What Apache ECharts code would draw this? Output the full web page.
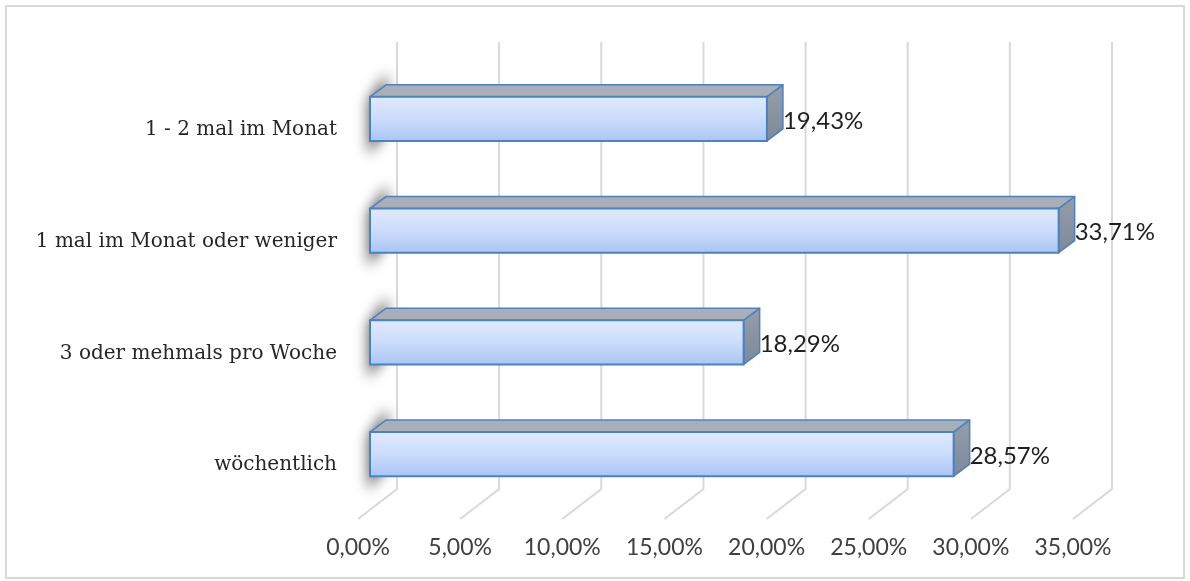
<!DOCTYPE html>
<html>
<head>
<meta charset="utf-8">
<script src="https://cdn.jsdelivr.net/npm/echarts@6/dist/echarts.min.js"></script>
<style>
  html, body { margin: 0; padding: 0; background: #ffffff; }
  #chart { width: 1190px; height: 581px; }
</style>
</head>
<body>
<div id="chart"></div>
<script>
// Frequency categories, listed bottom to top
const categories = ['wöchentlich', '3 oder mehmals pro Woche', '1 mal im Monat oder weniger', '1 - 2 mal im Monat'];
// Share of answers in percent
const values = [28.57, 18.29, 33.71, 19.43];
// Value axis ticks (percent)
const ticks = [0, 5, 10, 15, 20, 25, 30, 35];

const fmtPct = v => v.toFixed(2).replace('.', ',') + '%';

// Perspective offsets for the pseudo-3D look
const BAR_DEPTH = [16, -12];   // front face -> back face of a bar
const WALL_DEPTH = [27, -21];  // bar front plane -> back wall
const FLOOR_FRONT = [-12, 9];  // bar front plane -> floor front edge
const OFF = 3000;              // shadow caster is drawn off-canvas, only its blur shows

const chart = echarts.init(document.getElementById('chart'), null, { renderer: 'canvas' });

const gridSeries = {
  type: 'custom',
  silent: true,
  z: 1,
  data: ticks.map(t => [t]),
  renderItem: function (params, api) {
    const cs = params.coordSys;
    const x = api.coord([api.value(0), 0])[0];
    const top = cs.y, bottom = cs.y + cs.height;
    const bx = x + WALL_DEPTH[0];
    return {
      type: 'polyline',
      shape: {
        points: [
          [bx, top + WALL_DEPTH[1]],
          [bx, bottom + WALL_DEPTH[1]],
          [x + FLOOR_FRONT[0], bottom + FLOOR_FRONT[1]]
        ]
      },
      style: { stroke: '#d9d9d9', lineWidth: 2, fill: null }
    };
  }
};

const barSeries = {
  type: 'custom',
  z: 3,
  data: values.map((v, i) => [v, i]),
  renderItem: function (params, api) {
    const v = api.value(0);
    const cat = api.value(1);
    const start = api.coord([0, cat]);
    const end = api.coord([v, cat]);
    const band = api.size([0, 1])[1];
    const bh = band * 0.395;
    const x0 = start[0], x1 = end[0];
    const y0 = end[1] - bh / 2, y1 = end[1] + bh / 2;
    const dx = BAR_DEPTH[0], dy = BAR_DEPTH[1];
    const edge = '#4f81bd';
    return {
      type: 'group',
      children: [
        // soft shadow on the wall at the left end of the bar
        {
          type: 'polygon',
          z2: 0,
          shape: {
            points: [
              [x0 - 2 - OFF, y0 + 4],
              [x0 + dx + 1 - OFF, y0 + dy - 12],
              [x0 + dx + 1 - OFF, y1 + dy + 2],
              [x0 - 2 - OFF, y1 + 14]
            ]
          },
          style: {
            fill: '#000',
            shadowBlur: 13,
            shadowOffsetX: OFF,
            shadowColor: 'rgba(0,0,0,0.62)'
          }
        },
        // top face
        {
          type: 'polygon',
          z2: 2,
          shape: { points: [[x0, y0], [x0 + dx, y0 + dy], [x1 + dx, y0 + dy], [x1, y0]] },
          style: { fill: '#a8afb9', stroke: edge, lineWidth: 1.5, lineJoin: 'round' }
        },
        // right side face
        {
          type: 'polygon',
          z2: 2,
          shape: { points: [[x1, y0], [x1 + dx, y0 + dy], [x1 + dx, y1 + dy], [x1, y1]] },
          style: {
            fill: new echarts.graphic.LinearGradient(0, 0, 0, 1, [
              { offset: 0, color: '#959eac' },
              { offset: 1, color: '#7d889b' }
            ]),
            stroke: edge, lineWidth: 1.5, lineJoin: 'round'
          }
        },
        // front face
        {
          type: 'rect',
          z2: 3,
          shape: { x: x0, y: y0, width: x1 - x0, height: bh },
          style: {
            fill: new echarts.graphic.LinearGradient(0, 0, 0, 1, [
              { offset: 0, color: '#dfeafd' },
              { offset: 0.5, color: '#cbdcfb' },
              { offset: 1, color: '#a9c5f4' }
            ]),
            stroke: edge, lineWidth: 2
          }
        },
        // value label
        {
          type: 'text',
          z2: 4,
          style: {
            x: x1 + dx, y: end[1] + 2,
            text: fmtPct(v),
            fill: '#1f1f1f',
            font: '24px Lato',
            align: 'left',
            verticalAlign: 'middle'
          }
        }
      ]
    };
  }
};

chart.setOption({
  animation: false,
  backgroundColor: '#ffffff',
  graphic: [{
    type: 'rect',
    silent: true,
    z: -10,
    shape: { x: 6, y: 6, width: 1178, height: 572 },
    style: { fill: null, stroke: '#d9d9d9', lineWidth: 2 }
  }],
  grid: { left: 370, right: 105, top: 63, bottom: 71, containLabel: false },
  xAxis: {
    type: 'value',
    min: 0,
    max: 35,
    interval: 5,
    axisLine: { show: false },
    axisTick: { show: false },
    splitLine: { show: false },
    axisLabel: {
      formatter: v => fmtPct(v),
      color: '#404040',
      fontFamily: 'Lato',
      fontSize: 23,
      margin: 26,
      padding: [0, 24, 0, 0]
    }
  },
  yAxis: {
    type: 'category',
    data: categories,
    axisLine: { show: false },
    axisTick: { show: false },
    splitLine: { show: false },
    axisLabel: {
      color: '#262626',
      fontFamily: 'DejaVu Serif',
      fontSize: 20,
      margin: 33,
      verticalAlign: 'top',
      lineHeight: 22
    }
  },
  series: [gridSeries, barSeries]
});
</script>
</body>
</html>
